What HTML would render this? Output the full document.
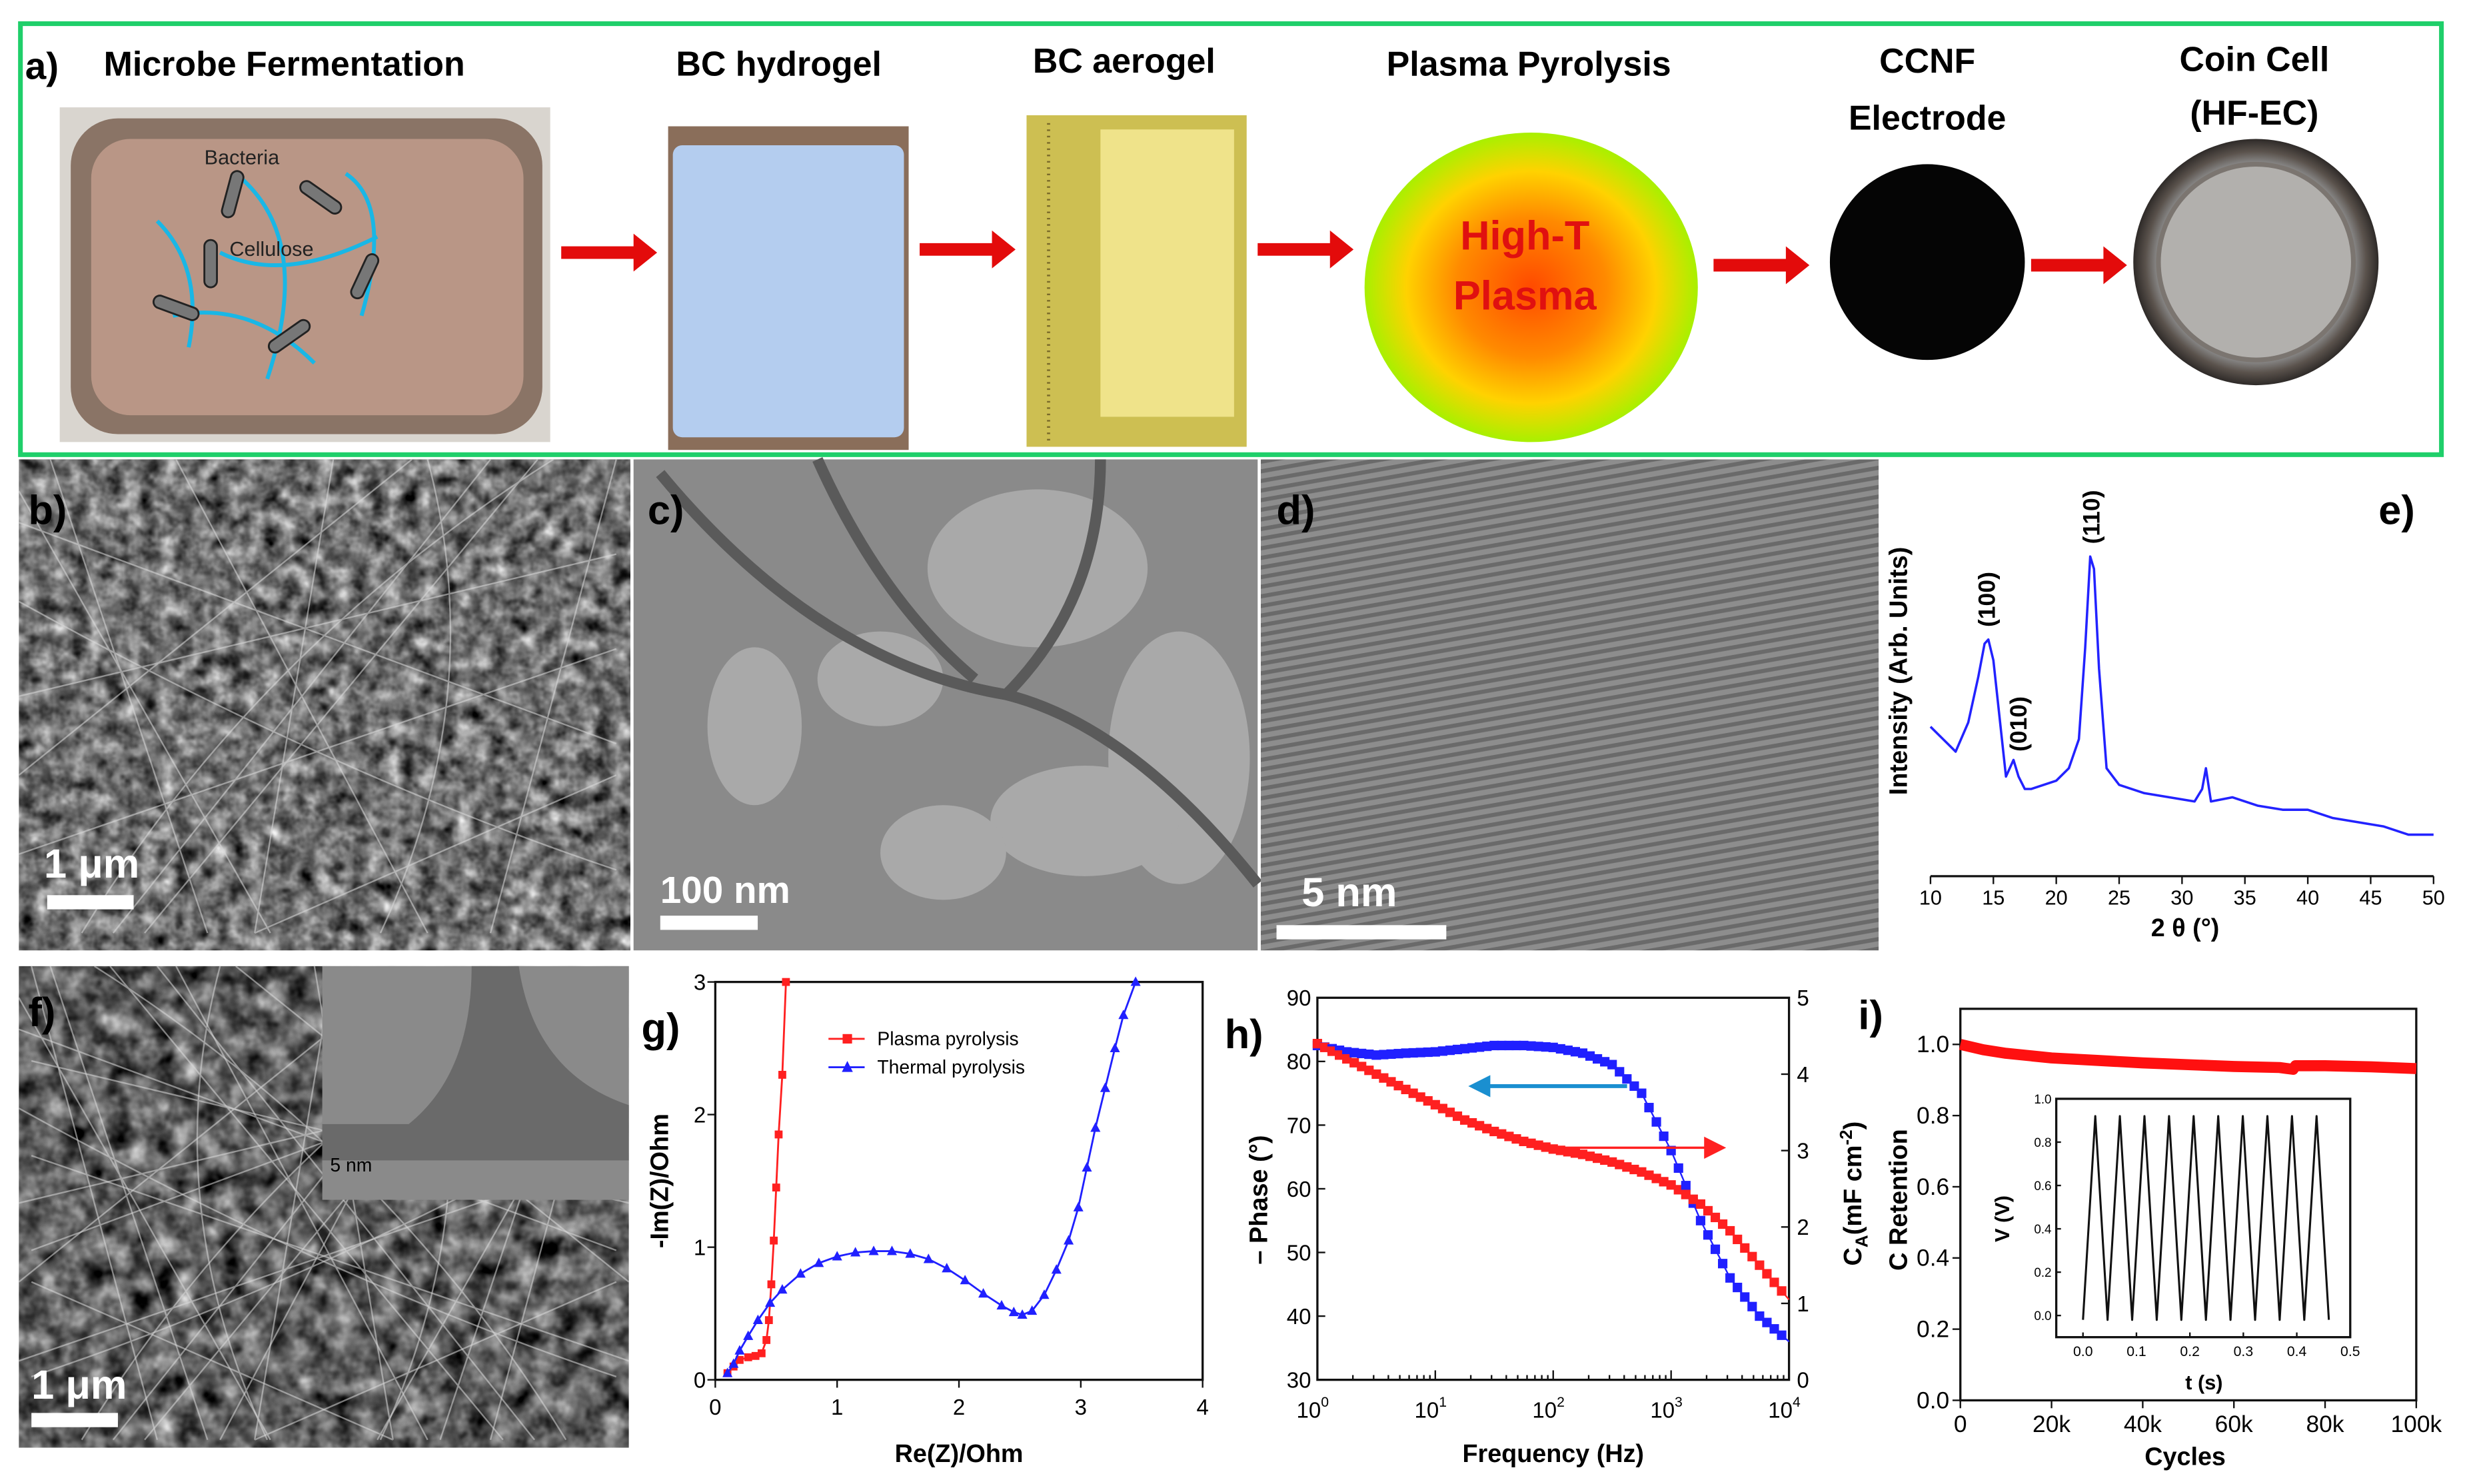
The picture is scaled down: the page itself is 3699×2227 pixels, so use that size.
<!DOCTYPE html>
<html><head><meta charset="utf-8"><style>
html,body{margin:0;padding:0;background:#fff}
svg{display:block}
text{font-family:"Liberation Sans",Arial,sans-serif}
</style></head><body>
<svg id="fig" width="3699" height="2227" viewBox="0 0 1568 940" preserveAspectRatio="none" xmlns="http://www.w3.org/2000/svg">
<defs>
<radialGradient id="plasmaG" cx="50%" cy="50%" r="50%"><stop offset="0" stop-color="#ff4a00"/><stop offset="0.45" stop-color="#ff8a00"/><stop offset="0.75" stop-color="#ffd200"/><stop offset="1" stop-color="#a8f000"/></radialGradient>
<radialGradient id="coinG" cx="50%" cy="50%" r="50%"><stop offset="0" stop-color="#bdbdbd"/><stop offset="0.8" stop-color="#8c8c8c"/><stop offset="0.9" stop-color="#5a524c"/><stop offset="1" stop-color="#2e2a28"/></radialGradient>
<filter id="noiseB" x="0" y="0" width="1" height="1" color-interpolation-filters="sRGB"><feTurbulence type="fractalNoise" baseFrequency="0.09" numOctaves="3" seed="3"/><feColorMatrix type="matrix" values="0.33 0.33 0.33 0 0  0.33 0.33 0.33 0 0  0.33 0.33 0.33 0 0  0 0 0 0 1"/><feComponentTransfer><feFuncR type="linear" slope="1.8" intercept="-0.45"/><feFuncG type="linear" slope="1.8" intercept="-0.45"/><feFuncB type="linear" slope="1.8" intercept="-0.45"/></feComponentTransfer></filter>
<filter id="noiseF" x="0" y="0" width="1" height="1" color-interpolation-filters="sRGB"><feTurbulence type="fractalNoise" baseFrequency="0.07" numOctaves="3" seed="8"/><feColorMatrix type="matrix" values="0.33 0.33 0.33 0 0  0.33 0.33 0.33 0 0  0.33 0.33 0.33 0 0  0 0 0 0 1"/><feComponentTransfer><feFuncR type="linear" slope="1.8" intercept="-0.52"/><feFuncG type="linear" slope="1.8" intercept="-0.52"/><feFuncB type="linear" slope="1.8" intercept="-0.52"/></feComponentTransfer></filter>
<pattern id="fringes" width="6" height="6" patternUnits="userSpaceOnUse" patternTransform="rotate(80)"><rect width="6" height="6" fill="#8d8d8d"/><rect width="2.6" height="6" fill="#6a6a6a"/></pattern>
<g id="fibers" fill="none" stroke="#d8d8d8" stroke-opacity="0.55" stroke-width="1">
<path d="M0 40 L380 180 M20 0 L120 300 M60 300 L300 0 M0 150 L380 60 M100 0 L260 300 M0 250 L380 120 M200 0 L150 300 M300 300 L380 0 M0 90 Q200 200 380 260 M40 300 Q150 120 340 0 M0 200 L250 0 M150 300 L380 200 M260 0 Q300 150 230 300 M0 20 L160 300 M330 0 L80 300"/>
</g>
</defs>

<!-- Panel a -->
<g>
<rect x="13" y="15" width="1540" height="273" fill="none" stroke="#1fcf6a" stroke-width="3"/>
<text x="16" y="50" font-size="24" font-weight="bold">a)</text>
<text x="66" y="48" font-size="22" font-weight="bold">Microbe Fermentation</text>
<text x="430" y="48" font-size="22" font-weight="bold">BC hydrogel</text>
<text x="657" y="46" font-size="22" font-weight="bold">BC aerogel</text>
<text x="882" y="48" font-size="22" font-weight="bold">Plasma Pyrolysis</text>
<text x="1226" y="46" font-size="22" font-weight="bold" text-anchor="middle">CCNF</text>
<text x="1226" y="82" font-size="22" font-weight="bold" text-anchor="middle">Electrode</text>
<text x="1434" y="45" font-size="22" font-weight="bold" text-anchor="middle">Coin Cell</text>
<text x="1434" y="79" font-size="22" font-weight="bold" text-anchor="middle">(HF-EC)</text>
<g>
<rect x="38" y="68" width="312" height="212" fill="#d9d5cf"/>
<rect x="45" y="75" width="300" height="200" rx="30" fill="#8a7466"/>
<rect x="58" y="88" width="275" height="175" rx="25" fill="#b99686"/>
<path d="M100 140 Q130 170 120 220 M150 110 Q200 150 170 240 M220 110 Q250 130 230 200 M110 200 Q160 190 200 230 M140 160 Q180 180 240 150" stroke="#19b7e6" stroke-width="2.5" fill="none"/>
<g fill="#777" stroke="#222" stroke-width="1.2">
<rect x="144" y="108" width="8" height="30" rx="4" transform="rotate(15 148 123)"/>
<rect x="200" y="110" width="8" height="30" rx="4" transform="rotate(-55 204 125)"/>
<rect x="130" y="152" width="8" height="30" rx="4"/>
<rect x="228" y="160" width="8" height="30" rx="4" transform="rotate(25 232 175)"/>
<rect x="108" y="180" width="8" height="30" rx="4" transform="rotate(-70 112 195)"/>
<rect x="180" y="198" width="8" height="30" rx="4" transform="rotate(55 184 213)"/>
</g>
<text x="130" y="104" font-size="13" font-family="Liberation Serif,serif" fill="#222">Bacteria</text>
<text x="146" y="162" font-size="13" font-family="Liberation Serif,serif" fill="#222">Cellulose</text>
</g>
<g><rect x="425" y="80" width="153" height="205" fill="#8a6e5a"/><rect x="428" y="92" width="147" height="185" rx="6" fill="#b4cdef"/></g>
<g><rect x="653" y="73" width="140" height="210" fill="#cdbf52"/><rect x="700" y="82" width="85" height="182" fill="#efe38a"/><line x1="667" y1="78" x2="667" y2="280" stroke="#7a6a2a" stroke-width="2" stroke-dasharray="1 3"/></g>
<ellipse cx="974" cy="182" rx="106" ry="98" fill="url(#plasmaG)"/>
<text x="970" y="158" font-size="26" font-weight="bold" fill="#e01010" text-anchor="middle">High-T</text>
<text x="970" y="196" font-size="26" font-weight="bold" fill="#e01010" text-anchor="middle">Plasma</text>
<circle cx="1226" cy="166" r="62" fill="#050505"/>
<g><circle cx="1435" cy="166" r="78" fill="url(#coinG)"/><circle cx="1435" cy="166" r="62" fill="#b2b0ad" stroke="#7b7570" stroke-width="3"/></g>
<g fill="#e30b0b">
<path d="M357 156h46v-8l15 12-15 12v-8h-46z"/>
<path d="M585 154h46v-8l15 12-15 12v-8h-46z"/>
<path d="M800 154h46v-8l15 12-15 12v-8h-46z"/>
<path d="M1090 164h46v-8l15 12-15 12v-8h-46z"/>
<path d="M1292 164h46v-8l15 12-15 12v-8h-46z"/>
</g>
</g>

<!-- Row 2 images -->
<g>
<svg x="12" y="291" width="389" height="311" overflow="hidden">
<rect width="389" height="311" fill="#808080" filter="url(#noiseB)"/>
<use href="#fibers"/>
</svg>
<text x="18" y="332" font-size="26" font-weight="bold">b)</text>
<text x="28" y="556" font-size="26" font-weight="bold" font-family="Liberation Serif,serif" fill="#fff">1 μm</text>
<rect x="30" y="567" width="55" height="9" fill="#fff"/>
</g>
<g>
<rect x="403" y="291" width="397" height="311" fill="#8a8a8a"/>
<g fill="#a9a9a9"><ellipse cx="660" cy="360" rx="70" ry="50"/><ellipse cx="750" cy="480" rx="45" ry="80"/><ellipse cx="560" cy="430" rx="40" ry="30"/><ellipse cx="690" cy="520" rx="60" ry="35"/><ellipse cx="480" cy="460" rx="30" ry="50"/><ellipse cx="600" cy="540" rx="40" ry="30"/></g>
<path d="M420 300 Q520 420 640 440 Q720 460 800 560 M520 291 Q560 380 620 430 M700 291 Q700 380 640 440" stroke="#5a5a5a" stroke-width="7" fill="none"/>
<text x="412" y="332" font-size="26" font-weight="bold">c)</text>
<text x="420" y="572" font-size="24" font-weight="bold" font-family="Liberation Serif,serif" fill="#fff">100 nm</text>
<rect x="420" y="580" width="62" height="9" fill="#fff"/>
</g>
<g>
<rect x="802" y="291" width="393" height="311" fill="url(#fringes)"/>
<text x="812" y="332" font-size="26" font-weight="bold">d)</text>
<text x="828" y="574" font-size="26" font-weight="bold" font-family="Liberation Serif,serif" fill="#fff">5 nm</text>
<rect x="812" y="586" width="108" height="9" fill="#fff"/>
</g>
<g>
<svg x="12" y="612" width="388" height="305" overflow="hidden">
<rect width="388" height="305" fill="#707070" filter="url(#noiseF)"/>
<use href="#fibers"/>
<use href="#fibers" transform="translate(388 0) scale(-1 1)"/>
</svg>
<rect x="205" y="612" width="195" height="148" fill="#8a8a8a"/>
<path d="M300 612 Q300 680 260 712 L205 712 L205 735 L400 735 L400 700 Q340 680 330 612z" fill="#6a6a6a"/>
<text x="210" y="742" font-size="12" font-family="Liberation Serif,serif">5 nm</text>
<text x="18" y="650" font-size="26" font-weight="bold">f)</text>
<text x="20" y="886" font-size="26" font-weight="bold" font-family="Liberation Serif,serif" fill="#fff">1 μm</text>
<rect x="20" y="895" width="55" height="9" fill="#fff"/>
</g>

<g id="charts"></g>
</svg>
<script>
const NS="http://www.w3.org/2000/svg";
const root=document.getElementById('charts');
function el(tag,attrs,parent,txt){const e=document.createElementNS(NS,tag);for(const k in attrs)e.setAttribute(k,attrs[k]);if(txt!==undefined)e.textContent=txt;(parent||root).appendChild(e);return e;}
function lin(d0,d1,r0,r1){return v=>r0+(v-d0)/(d1-d0)*(r1-r0);}

// ---- data ----
const xrdTheta=[10,11,12,13,13.8,14.3,14.6,15,15.5,16,16.6,17,17.5,18,19,20,21,21.8,22.3,22.7,23,23.4,24,25,27,29,31,31.6,31.9,32.3,34,36,38,40,42,44,46,48,50];
const xrdInt=[0.36,0.33,0.30,0.37,0.48,0.56,0.57,0.52,0.38,0.24,0.28,0.24,0.21,0.21,0.22,0.23,0.26,0.33,0.55,0.77,0.74,0.50,0.26,0.22,0.20,0.19,0.18,0.21,0.26,0.18,0.19,0.17,0.16,0.16,0.14,0.13,0.12,0.10,0.10];
const xrdTicks=[10,15,20,25,30,35,40,45,50];
const xrdPeakLabels=["(100)","(010)","(110)"];
const xrdPeakPos=[14.5,17,22.8];
const xrdPeakInt=[0.60,0.30,0.80];

const gPlasmaX=[0.1,0.15,0.2,0.27,0.33,0.38,0.42,0.44,0.46,0.48,0.5,0.52,0.55,0.58];
const gPlasmaY=[0.05,0.1,0.15,0.17,0.18,0.2,0.3,0.45,0.72,1.05,1.45,1.85,2.3,3.0];
const gThermX=[0.1,0.15,0.2,0.27,0.35,0.45,0.55,0.7,0.85,1.0,1.15,1.3,1.45,1.6,1.75,1.9,2.05,2.2,2.35,2.45,2.52,2.6,2.7,2.8,2.9,2.98,3.05,3.12,3.2,3.28,3.35,3.45];
const gThermY=[0.05,0.12,0.22,0.33,0.45,0.58,0.68,0.8,0.88,0.93,0.96,0.97,0.97,0.95,0.91,0.84,0.75,0.65,0.56,0.51,0.49,0.52,0.64,0.83,1.05,1.3,1.6,1.9,2.2,2.5,2.75,3.0];
const gXTicks=[0,1,2,3,4];
const gYTicks=[0,1,2,3];
const gLegend=["Plasma pyrolysis","Thermal pyrolysis"];

const hLogF=[0,0.25,0.5,0.75,1,1.25,1.5,1.75,2,2.25,2.5,2.75,3,3.25,3.5,3.75,4];
const hPhase=[82.5,81.5,81,81.3,81.5,82,82.5,82.5,82.2,81.3,79.5,75,66,55,46,40,36];
const hCa=[4.4,4.2,4.0,3.8,3.6,3.4,3.25,3.12,3.02,2.95,2.85,2.72,2.55,2.3,1.95,1.5,1.05];
const hXTicks=[0,1,2,3,4];
const hYTicks=[30,40,50,60,70,80,90];
const hY2Ticks=[0,1,2,3,4,5];

const iCycles=[0,5000,10000,20000,30000,40000,50000,60000,70000,73000,73500,80000,90000,100000];
const iRet=[1.0,0.985,0.975,0.962,0.955,0.948,0.943,0.938,0.935,0.93,0.94,0.94,0.937,0.932];
const iXTicks=[0,20000,40000,60000,80000,100000];
const iXLabels=["0","20k","40k","60k","80k","100k"];
const iYTicks=[0,0.2,0.4,0.6,0.8,1.0];
const inT=[0,0.023,0.046,0.069,0.092,0.115,0.138,0.161,0.184,0.207,0.23,0.253,0.276,0.299,0.322,0.345,0.368,0.391,0.414,0.437,0.46];
const inV=[-0.02,0.92,-0.02,0.92,-0.02,0.92,-0.02,0.92,-0.02,0.92,-0.02,0.92,-0.02,0.92,-0.02,0.92,-0.02,0.92,-0.02,0.92,-0.02];
const inXTicks=[0,0.1,0.2,0.3,0.4,0.5];
const inYTicks=[0,0.2,0.4,0.6,0.8,1.0];

function frame(g,x0,y0,x1,y1){el('rect',{x:x0,y:y0,width:x1-x0,height:y1-y0,fill:'none',stroke:'#111','stroke-width':1.4},g);}
function poly(g,xs,ys,sx,sy,color,w){el('polyline',{points:xs.map((v,i)=>sx(v)+','+sy(ys[i])).join(' '),fill:'none',stroke:color,'stroke-width':w||1.2,'stroke-linejoin':'round'},g);}

// ---- panel e ----
{const g=el('g',{});
const x0=1228,x1=1548,y0=292,y1=555;
el('rect',{x:1197,y:291,width:365,height:312,fill:'#fff'},g);
const sx=lin(10,50,x0,x1), sy=lin(0,1,y1,y0);
el('line',{x1:x0,y1:y1,x2:x1,y2:y1,stroke:'#111','stroke-width':1.4},g);
xrdTicks.forEach(t=>{el('line',{x1:sx(t),y1:y1,x2:sx(t),y2:y1+5,stroke:'#111'},g);const tx=el('text',{x:sx(t),y:y1+18,'font-size':13,'text-anchor':'middle'},g,t);});
poly(g,xrdTheta,xrdInt,sx,sy,'#2222ff',1.5);
xrdPeakLabels.forEach((l,i)=>{const t=el('text',{x:sx(xrdPeakPos[i])+5,y:sy(xrdPeakInt[i]),'font-size':15,'font-weight':'bold',transform:`rotate(-90 ${sx(xrdPeakPos[i])+5} ${sy(xrdPeakInt[i])})`},g,l);});
el('text',{x:1513,y:332,'font-size':26,'font-weight':'bold'},g,'e)');
const yl=el('text',{x:1213,y:425,'font-size':16,'font-weight':'bold','text-anchor':'middle',transform:'rotate(-90 1213 425)'},g,'Intensity (Arb. Units)');
const xl=el('text',{x:1390,y:593,'font-size':16,'font-weight':'bold','text-anchor':'middle'},g,'2 θ (°)');
}

// ---- panel g ----
{const g=el('g',{});
const x0=455,x1=765,y0=622,y1=874;
const sx=lin(0,4,x0,x1), sy=lin(0,3,y1,y0);
frame(g,x0,y0,x1,y1);
gXTicks.forEach(t=>{el('line',{x1:sx(t),y1:y1,x2:sx(t),y2:y1+5,stroke:'#111'},g);el('text',{x:sx(t),y:y1+22,'font-size':14,'text-anchor':'middle'},g,t);});
gYTicks.forEach(t=>{el('line',{x1:x0,y1:sy(t),x2:x0-5,y2:sy(t),stroke:'#111'},g);el('text',{x:x0-6,y:sy(t)+5,'font-size':14,'text-anchor':'end'},g,t);});
poly(g,gPlasmaX,gPlasmaY,sx,sy,'#ff2020',1.2);
gPlasmaX.forEach((v,i)=>{const m=el('rect',{x:sx(v)-2.5,y:sy(gPlasmaY[i])-2.5,width:5,height:5,fill:'#ff2020'},g);});
poly(g,gThermX,gThermY,sx,sy,'#2020ff',1.2);
gThermX.forEach((v,i)=>{const X=sx(v),Y=sy(gThermY[i]);const m=el('path',{d:`M${X} ${Y-3.5}L${X+3.2} ${Y+2.5}L${X-3.2} ${Y+2.5}Z`,fill:'#2020ff'},g);});
el('line',{x1:527,y1:658,x2:550,y2:658,stroke:'#ff2020','stroke-width':1.2},g);el('rect',{x:536,y:655,width:6,height:6,fill:'#ff2020'},g);
el('text',{x:558,y:662,'font-size':12},g,gLegend[0]);
el('line',{x1:527,y1:676,x2:550,y2:676,stroke:'#2020ff','stroke-width':1.2},g);el('path',{d:'M539 672L542.5 679L535.5 679Z',fill:'#2020ff'},g);
el('text',{x:558,y:680,'font-size':12},g,gLegend[1]);
el('text',{x:408,y:660,'font-size':26,'font-weight':'bold'},g,'g)');
el('text',{x:425,y:748,'font-size':16,'font-weight':'bold','text-anchor':'middle',transform:'rotate(-90 425 748)'},g,'-Im(Z)/Ohm');
el('text',{x:610,y:926,'font-size':16,'font-weight':'bold','text-anchor':'middle'},g,'Re(Z)/Ohm');
}

// ---- panel h ----
{const g=el('g',{});
const x0=838,x1=1138,y0=632,y1=874;
const sx=lin(0,4,x0,x1), sy=lin(30,90,y1,y0), sy2=lin(0,5,y1,y0);
frame(g,x0,y0,x1,y1);
hXTicks.forEach(t=>{el('line',{x1:sx(t),y1:y1,x2:sx(t),y2:y1-6,stroke:'#111'},g);
 if(t<4)for(let k=2;k<10;k++){const xx=sx(t+Math.log10(k));el('line',{x1:xx,y1:y1,x2:xx,y2:y1-3,stroke:'#111'},g);}
 const tx=el('text',{x:sx(t)-3,y:y1+24,'font-size':14,'text-anchor':'middle'},g,'10');el('tspan',{dy:-7,'font-size':9},tx,t);});
hYTicks.forEach(t=>{el('line',{x1:x0,y1:sy(t),x2:x0+5,y2:sy(t),stroke:'#111'},g);el('text',{x:x0-4,y:sy(t)+5,'font-size':14,'text-anchor':'end'},g,t);});
hY2Ticks.forEach(t=>{el('line',{x1:x1,y1:sy2(t),x2:x1-5,y2:sy2(t),stroke:'#111'},g);el('text',{x:x1+5,y:sy2(t)+5,'font-size':14},g,t);});
poly(g,hLogF,hPhase,sx,sy,'#2020ff',1);
poly(g,hLogF,hCa,sx,sy2,'#ff2020',1);
for(let i=0;i<hLogF.length-1;i++){for(let k=0;k<4;k++){const f=k/4;const lf=hLogF[i]+f*(hLogF[i+1]-hLogF[i]);
 const p=hPhase[i]+f*(hPhase[i+1]-hPhase[i]);const c=hCa[i]+f*(hCa[i+1]-hCa[i]);
 const a=el('rect',{x:sx(lf)-3,y:sy(p)-3,width:6,height:6,fill:'#2020ff'},g);
 const b=el('rect',{x:sx(lf)-3,y:sy2(c)-3,width:6,height:6,fill:'#ff2020'},g);}}
el('line',{x1:1035,y1:688,x2:945,y2:688,stroke:'#1a8fd0','stroke-width':2.5},g);el('path',{d:'M934 688L948 681L948 695Z',fill:'#1a8fd0'},g);
el('line',{x1:985,y1:727,x2:1085,y2:727,stroke:'#ff2020','stroke-width':1.5},g);el('path',{d:'M1098 727L1084 720L1084 734Z',fill:'#ff2020'},g);
el('text',{x:779,y:664,'font-size':26,'font-weight':'bold'},g,'h)');
el('text',{x:806,y:760,'font-size':16,'font-weight':'bold','text-anchor':'middle',transform:'rotate(-90 806 760)'},g,'– Phase (°)');
const yt=el('text',{x:1184,y:756,'font-size':16,'font-weight':'bold','text-anchor':'middle',transform:'rotate(-90 1184 756)'},g,'C');el('tspan',{'font-size':11,dy:4},yt,'A');el('tspan',{dy:-4},yt,'(mF cm');el('tspan',{'font-size':11,dy:-6},yt,'-2');el('tspan',{dy:6},yt,')');
el('text',{x:988,y:926,'font-size':16,'font-weight':'bold','text-anchor':'middle'},g,'Frequency (Hz)');
}

// ---- panel i ----
{const g=el('g',{});
const x0=1247,x1=1537,y0=639,y1=887;
const sx=lin(0,100000,x0,x1), sy=lin(0,1.1,y1,y0);
frame(g,x0,y0,x1,y1);
iXTicks.forEach((t,i)=>{el('line',{x1:sx(t),y1:y1,x2:sx(t),y2:y1+5,stroke:'#111'},g);el('text',{x:sx(t),y:y1+20,'font-size':15,'text-anchor':'middle'},g,iXLabels[i]);});
iYTicks.forEach(t=>{el('line',{x1:x0,y1:sy(t),x2:x0-5,y2:sy(t),stroke:'#111'},g);el('text',{x:x0-7,y:sy(t)+5,'font-size':15,'text-anchor':'end'},g,t.toFixed(1));});
poly(g,iCycles,iRet,sx,sy,'#ff1010',7);
const ix0=1308,ix1=1495,iy0=696,iy1=847;
const tx=lin(-0.05,0.5,ix0,ix1), ty=lin(-0.1,1,iy1,iy0);
frame(g,ix0,iy0,ix1,iy1);
inXTicks.forEach(t=>{el('line',{x1:tx(t),y1:iy1,x2:tx(t),y2:iy1-3,stroke:'#111'},g);el('text',{x:tx(t),y:iy1+12,'font-size':9,'text-anchor':'middle'},g,t.toFixed(1));});
inYTicks.forEach(t=>{el('line',{x1:ix0,y1:ty(t),x2:ix0+3,y2:ty(t),stroke:'#111'},g);el('text',{x:ix0-3,y:ty(t)+3,'font-size':8,'text-anchor':'end'},g,t.toFixed(1));});
poly(g,inT,inV,tx,ty,'#111',1.3);
el('text',{x:1402,y:880,'font-size':13,'font-weight':'bold','text-anchor':'middle'},g,'t (s)');
el('text',{x:1278,y:772,'font-size':13,'font-weight':'bold','text-anchor':'middle',transform:'rotate(-90 1278 772)'},g,'V (V)');
el('text',{x:1182,y:652,'font-size':26,'font-weight':'bold'},g,'i)');
el('text',{x:1213,y:760,'font-size':16,'font-weight':'bold','text-anchor':'middle',transform:'rotate(-90 1213 760)'},g,'C Retention');
el('text',{x:1390,y:928,'font-size':16,'font-weight':'bold','text-anchor':'middle'},g,'Cycles');
}
</script>
</body></html>
